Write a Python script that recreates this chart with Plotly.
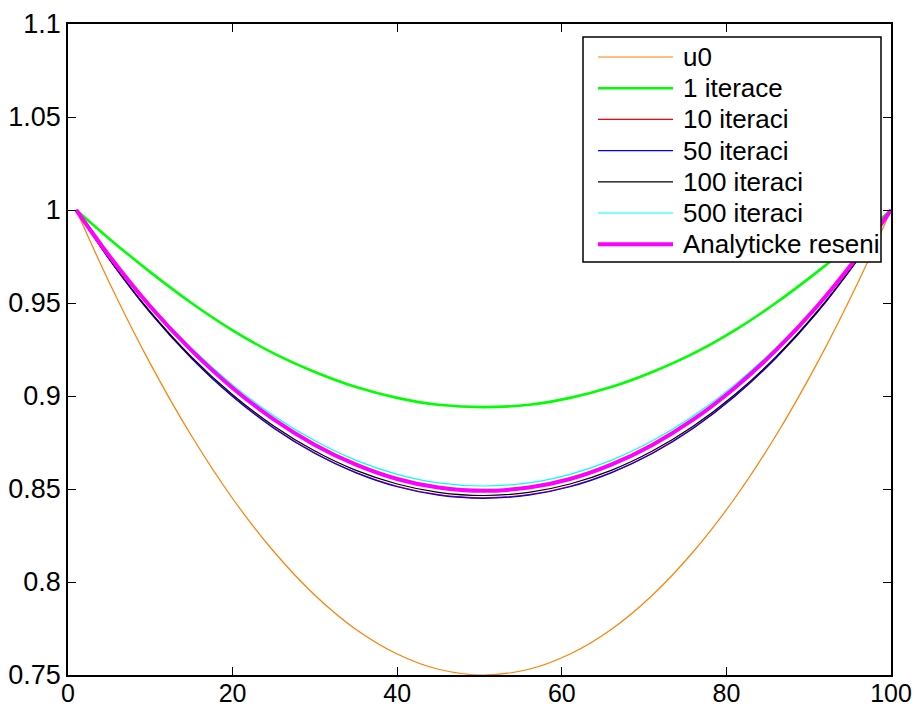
import plotly.graph_objects as go

x = [1, 5, 10, 15, 20, 25, 30, 35, 40, 45, 50.5, 56, 61, 66, 71, 76, 81, 86, 91, 96, 100]

u0 = [1.0, 0.9612, 0.9174, 0.8786, 0.8449, 0.8164, 0.7929, 0.7745, 0.7613, 0.7531, 0.750,
      0.7531, 0.7613, 0.7745, 0.7929, 0.8164, 0.8449, 0.8786, 0.9174, 0.9612, 1.0]
it1 = [1.0, 0.9846, 0.9666, 0.9500, 0.9353, 0.9229, 0.9129, 0.9048, 0.8990, 0.8953, 0.894,
       0.8953, 0.8990, 0.9048, 0.9129, 0.9229, 0.9353, 0.9500, 0.9666, 0.9846, 1.0]
it10 = [1.0, 0.9736, 0.9448, 0.9204, 0.8999, 0.8830, 0.8694, 0.8589, 0.8515, 0.8470, 0.8453,
        0.8470, 0.8515, 0.8589, 0.8694, 0.8830, 0.8999, 0.9204, 0.9448, 0.9736, 1.0]
it50 = [1.0, 0.9736, 0.9447, 0.9203, 0.8997, 0.8827, 0.8691, 0.8587, 0.8512, 0.8467, 0.845,
        0.8467, 0.8512, 0.8587, 0.8691, 0.8827, 0.8997, 0.9203, 0.9447, 0.9736, 1.0]
it100 = [1.0, 0.9738, 0.9453, 0.9210, 0.9007, 0.8839, 0.8704, 0.8600, 0.8527, 0.8482, 0.8465,
         0.8482, 0.8527, 0.8600, 0.8704, 0.8839, 0.9007, 0.9210, 0.9453, 0.9738, 1.0]
it500 = [1.0, 0.9758, 0.9490, 0.9258, 0.9060, 0.8894, 0.8759, 0.8654, 0.8579, 0.8533, 0.8516,
         0.8533, 0.8579, 0.8654, 0.8759, 0.8894, 0.9060, 0.9258, 0.9490, 0.9758, 1.0]
analytic = [1.0, 0.9754, 0.9481, 0.9245, 0.9043, 0.8874, 0.8737, 0.8631, 0.8554, 0.8508, 0.849,
            0.8508, 0.8554, 0.8631, 0.8737, 0.8874, 0.9043, 0.9245, 0.9481, 0.9754, 1.0]

names = ["u0", "1 iterace", "10 iteraci", "50 iteraci", "100 iteraci", "500 iteraci", "Analyticke reseni"]
series = [u0, it1, it10, it50, it100, it500, analytic]
colors = ["#FF8000", "#00FF00", "#FF0000", "#0000FF", "#000000", "#00FFFF", "#FF00FF"]
widths = [1.2, 2.6, 1.2, 1.2, 1.2, 1.2, 4]

xticks = [0, 20, 40, 60, 80, 100]
yticks = [0.75, 0.8, 0.85, 0.9, 0.95, 1, 1.05, 1.1]
yticktext = ["0.75", "0.8", "0.85", "0.9", "0.95", "1", "1.05", "1.1"]

W, H = 916, 709
L, R, T, B = 68, 25, 24, 34
PW, PH = W - L - R, H - T - B

def px2paper(px, py):
    return (px - L) / PW, (H - B - py) / PH

fig = go.Figure()
for n, s, c, w in zip(names, series, colors, widths):
    fig.add_trace(go.Scatter(x=x, y=s, name=n, mode="lines", showlegend=False,
                             line=dict(color=c, width=w, shape="spline", smoothing=1.0)))

fam = "Liberation Sans, Arial, sans-serif"
axis_common = dict(showline=True, linecolor="black", linewidth=1.5, mirror="ticks",
                   ticks="inside", ticklen=8, tickcolor="black", tickwidth=1.2,
                   showgrid=False, zeroline=False, automargin=False)
fig.update_xaxes(range=[0, 100], tickvals=xticks, ticktext=[str(t) for t in xticks],
                 tickfont=dict(family=fam, size=25, color="black"), ticklabelstandoff=-5,
                 **axis_common)
fig.update_yaxes(range=[0.75, 1.1], tickvals=yticks, ticktext=yticktext,
                 tickfont=dict(family=fam, size=27, color="black"), **axis_common)

# custom legend box (layout decoration)
shapes, annotations = [], []
x0, y0 = px2paper(583, 37)
x1, y1 = px2paper(881, 262)
shapes.append(dict(type="rect", xref="paper", yref="paper", x0=x0, y0=y1, x1=x1, y1=y0,
                   line=dict(color="black", width=1.5), fillcolor="white", layer="above"))
row0, rowstep = 57, 31.2
for i, (n, c, w) in enumerate(zip(names, colors, widths)):
    py = row0 + i * rowstep
    lx0, ly = px2paper(598, py)
    lx1, _ = px2paper(673, py)
    shapes.append(dict(type="line", xref="paper", yref="paper", x0=lx0, x1=lx1, y0=ly, y1=ly,
                       line=dict(color=c, width=w), layer="above"))
    tx, ty = px2paper(681, py)
    annotations.append(dict(xref="paper", yref="paper", x=tx, y=ty, text=n, showarrow=False,
                            xanchor="left", yanchor="middle",
                            font=dict(family=fam, size=26, color="black")))

fig.update_layout(
    width=W, height=H,
    margin=dict(l=L, r=R, t=T, b=B, pad=0),
    paper_bgcolor="white", plot_bgcolor="white",
    font=dict(family=fam, size=26, color="black"),
    showlegend=False,
    shapes=shapes, annotations=annotations,
)

fig.write_html("out.html")
